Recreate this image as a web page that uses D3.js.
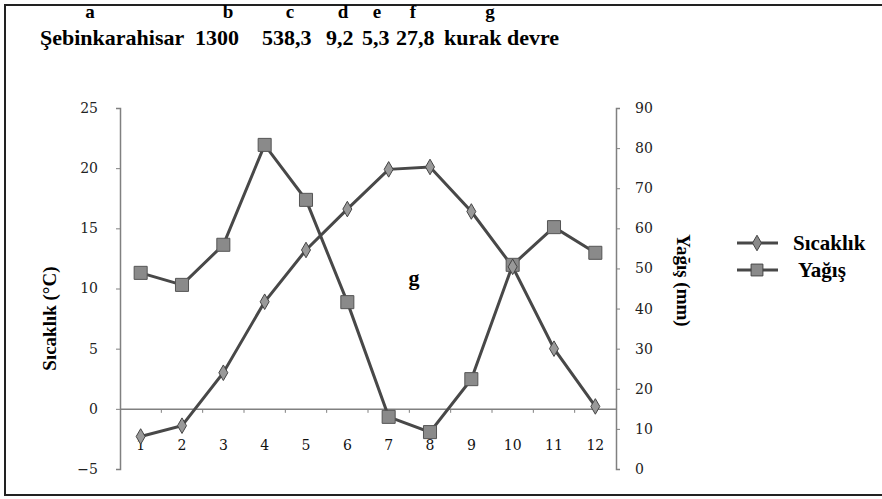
<!DOCTYPE html>
<html>
<head>
<meta charset="utf-8">
<script src="https://cdn.jsdelivr.net/npm/d3@7"></script>
<style>
  body { margin: 0; background: #fff; }
</style>
</head>
<body>
<svg id="chart" width="882" height="499"></svg>
<script>
// monthly values
const months = ["1", "2", "3", "4", "5", "6", "7", "8", "9", "10", "11", "12"];
const sicaklik = [-2.3, -1.4, 3.0, 8.9, 13.2, 16.6, 19.9, 20.1, 16.4, 11.8, 5.0, 0.2];
const yagis = [48.9, 45.9, 55.9, 80.8, 67.1, 41.6, 13.0, 9.2, 22.4, 50.9, 60.3, 53.9];
const leftTicks = [-5, 0, 5, 10, 15, 20, 25];
const rightTicks = [0, 10, 20, 30, 40, 50, 60, 70, 80, 90];
const headLetters = ["a", "b", "c", "d", "e", "f", "g"];
const headValues = ["Şebinkarahisar", "1300", "538,3", "9,2", "5,3", "27,8", "kurak devre"];

const serif = "'Liberation Serif', 'Times New Roman', 'DejaVu Serif', serif";
const svg = d3.select("#chart").style("font-family", serif);
const lineColor = "#484848";
const axisColor = "#808080";

// frame
svg.append("rect")
  .attr("x", 5).attr("y", 5).attr("width", 900).attr("height", 490)
  .attr("fill", "none").attr("stroke", "#222").attr("stroke-width", 2);

// header rows
const letterX = [90, 228, 290, 343, 377, 413, 490];
const valueX = [40, 195, 262, 326, 362, 396, 444];
svg.selectAll(".hl").data(headLetters).join("text")
  .attr("x", (d, i) => letterX[i]).attr("y", 18)
  .attr("text-anchor", "middle")
  .style("font-family", serif)
  .style("font-size", "19px").style("font-weight", "bold")
  .text(d => d);
svg.selectAll(".hv").data(headValues).join("text")
  .attr("x", (d, i) => valueX[i]).attr("y", 45)
  .style("font-family", serif)
  .style("font-size", "22px").style("font-weight", "bold")
  .text(d => d);

// scales
const x = d3.scaleBand().domain(months).range([120, 616]);
const cx = d => x(d) + x.bandwidth() / 2;
const yL = d3.scaleLinear().domain([-5, 25]).range([469, 108]);
const yR = d3.scaleLinear().domain([0, 90]).range([469, 108]);

// left axis
const gL = svg.append("g").attr("transform", "translate(120,0)")
  .call(d3.axisLeft(yL).tickValues(leftTicks).tickSize(4).tickPadding(18));
// right axis
const gR = svg.append("g").attr("transform", "translate(616,0)")
  .call(d3.axisRight(yR).tickValues(rightTicks).tickSize(4).tickPadding(15));
[gL, gR].forEach(g => {
  g.select(".domain").attr("stroke", axisColor).attr("stroke-width", 1.5);
  g.selectAll(".tick line").attr("stroke", axisColor);
  g.selectAll(".tick text")
    .attr("fill", "#222")
    .style("font-family", "'DejaVu Serif', serif")
    .style("font-size", "14px");
});

// category axis drawn at zero
const gX = svg.append("g").attr("transform", `translate(0,${yL(0)})`)
  .call(d3.axisBottom(x).tickSize(0).tickPadding(31));
gX.select(".domain").attr("stroke", axisColor).attr("stroke-width", 1.5);
gX.selectAll(".tick text")
  .attr("fill", "#111")
  .style("font-family", "'DejaVu Serif', serif")
  .style("font-size", "14px");
gX.selectAll(".minor").data(months.slice(1)).join("line")
  .attr("x1", d => x(d)).attr("x2", d => x(d))
  .attr("y1", 1).attr("y2", 4)
  .attr("stroke", axisColor);

// axis titles
svg.append("text")
  .attr("transform", `translate(56,${yL(7.5)}) rotate(-90)`)
  .attr("text-anchor", "middle")
  .style("font-family", serif)
  .style("font-size", "19px").style("font-weight", "bold")
  .text("Sıcaklık (°C)");
svg.append("text")
  .attr("transform", `translate(677,${yR(47)}) rotate(90)`)
  .attr("text-anchor", "middle")
  .style("font-family", serif)
  .style("font-size", "19px").style("font-weight", "bold")
  .text("Yağış (mm)");

// lines
const tempLine = d3.line().x((d, i) => cx(months[i])).y(d => yL(d));
const rainLine = d3.line().x((d, i) => cx(months[i])).y(d => yR(d));

svg.append("path").datum(yagis).attr("d", rainLine)
  .attr("fill", "none").attr("stroke", lineColor).attr("stroke-width", 3);
svg.append("path").datum(sicaklik).attr("d", tempLine)
  .attr("fill", "none").attr("stroke", lineColor).attr("stroke-width", 3);

const diamond = d3.symbol().type(d3.symbolDiamond).size(70);
const square = d3.symbol().type(d3.symbolSquare).size(170);

svg.selectAll(".sq").data(yagis).join("path")
  .attr("transform", (d, i) => `translate(${cx(months[i])},${yR(d)})`)
  .attr("d", square)
  .attr("fill", "#8a8a8a").attr("stroke", "#555").attr("stroke-width", 1);
svg.selectAll(".dm").data(sicaklik).join("path")
  .attr("transform", (d, i) => `translate(${cx(months[i])},${yL(d)})`)
  .attr("d", diamond)
  .attr("fill", "#999").attr("stroke", "#444").attr("stroke-width", 1);

// "g" mark in the middle of the dry period
svg.append("text")
  .attr("x", 414).attr("y", 285)
  .attr("text-anchor", "middle")
  .style("font-family", serif)
  .style("font-size", "22px").style("font-weight", "bold")
  .text("g");

// legend
const legend = [
  { name: "Sıcaklık", sym: d3.symbol().type(d3.symbolDiamond).size(70), y: 243 },
  { name: "Yağış", sym: d3.symbol().type(d3.symbolSquare).size(140), y: 270 }
];
const lg = svg.selectAll(".lg").data(legend).join("g")
  .attr("transform", d => `translate(0,${d.y})`);
lg.append("line")
  .attr("x1", 737).attr("x2", 778)
  .attr("stroke", lineColor).attr("stroke-width", 3);
lg.append("path")
  .attr("transform", "translate(757,0)")
  .attr("d", d => d.sym())
  .attr("fill", "#8a8a8a").attr("stroke", "#444");
lg.append("text")
  .attr("x", (d, i) => i === 0 ? 793 : 798).attr("y", 7)
  .style("font-family", serif)
  .style("font-size", "21px").style("font-weight", "bold")
  .text(d => d.name);
</script>
</body>
</html>
